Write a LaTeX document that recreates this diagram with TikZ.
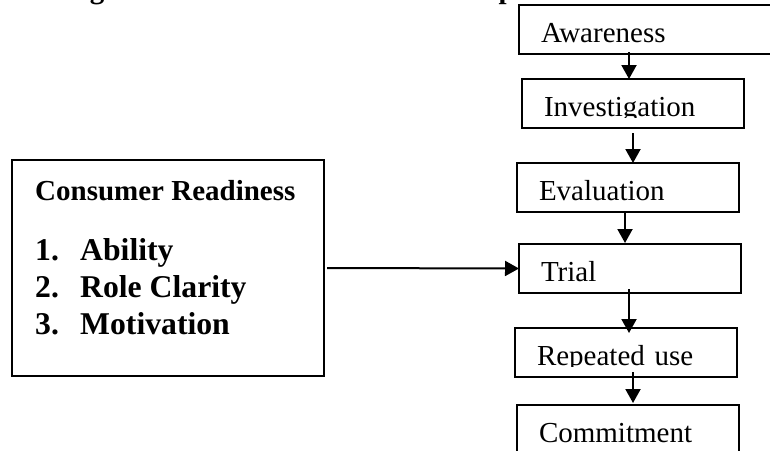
\documentclass[tikz,border=0pt]{standalone}
\usepackage{fontspec}
\setmainfont{Liberation Serif}
\usepackage{trimclip}
\usetikzlibrary{positioning,arrows.meta}

\tikzset{
	stage/.style={draw,line width=1.2pt,outer sep=0pt,anchor=north west,
		text width=178pt,inner xsep=22pt,inner ysep=0pt,
		text height=37pt,text depth=12pt,align=left,
		font=\fontsize{29}{34}\selectfont},
	flow/.style={line width=2pt,-{Triangle[length=14pt,width=15pt]}},
	heading/.style={inner sep=0pt,anchor=base west,font=\bfseries\fontsize{29}{34}\selectfont},
	factor/.style={inner sep=0pt,anchor=base west,font=\bfseries\fontsize{31.7}{37}\selectfont}
}

\begin{document}
\begin{tikzpicture}[x=1pt,y=-1pt]
	
	\fill [white] (0,0) rectangle (770,450);
	\useasboundingbox (0,0) rectangle (770,450);
	\clip (0,0) rectangle (770,450);
	
	\node [heading] (title) at (64,-2) {Figure 1: Model of Innovation Adoption};
	
	%%%%%%%%%%%%%%%%%%%%%%%%%%%%%%%%%%%%%%%%%%%%%%%%%%%%%%
	
	\node [stage,text width=216pt] (awareness) at (519,5) {Awareness};
	\node [stage,below=25pt of awareness.south west,anchor=north west,xshift=3pt] (investigation) {\clipbox{0pt 5pt 0pt 0pt}{Investigation}};
	\node [stage,below=35pt of investigation.south west,anchor=north west,xshift=-5pt] (evaluation) {Evaluation};
	\node [stage,below=32pt of evaluation.south west,anchor=north west,xshift=2pt] (trial) {Trial};
	\node [stage,below=35pt of trial.south west,anchor=north west,xshift=-4pt] (repeated) {\clipbox{0pt 5pt 0pt 0pt}{Repeated use}};
	\node [stage,below=28pt of repeated.south west,anchor=north west,xshift=2pt] (commitment) {Commitment};
	
	\foreach \from/\to/\dx/\ds/\de in {awareness/investigation/110/2/0,
		investigation/evaluation/111/-5/0, evaluation/trial/108/0/1,
		trial/repeated/110/4/-5, repeated/commitment/118/5/2}
		\draw [flow] ([xshift=\dx pt,yshift=\ds pt]\from.south west) -- ([xshift=\dx pt,yshift=\de pt]\from.south west |- \to.north);
	
	%%%%%%%%%%%%%%%%%%%%%%%%%%%%%%%%%%%%%%%%%%%%%%%%%%%%%%
	
	\node [draw,line width=1.2pt,outer sep=0pt,anchor=north west,minimum width=312pt,minimum height=216pt,inner sep=0pt] (readiness) at (12,160) {};
	
	\node [heading] (readiness-title) at ([shift={(23,40)}]readiness.north west) {Consumer Readiness};
	\foreach \n/\txt in {1/Ability,2/Role Clarity,3/Motivation}
		\node [factor] (factor-\n) at ([shift={(23,63+37*\n)}]readiness.north west) {\makebox[45pt][l]{\n.}\txt};
	
	\draw [flow,shorten <=3pt] (readiness.east) -- (trial.west);
	
\end{tikzpicture}
\end{document}
